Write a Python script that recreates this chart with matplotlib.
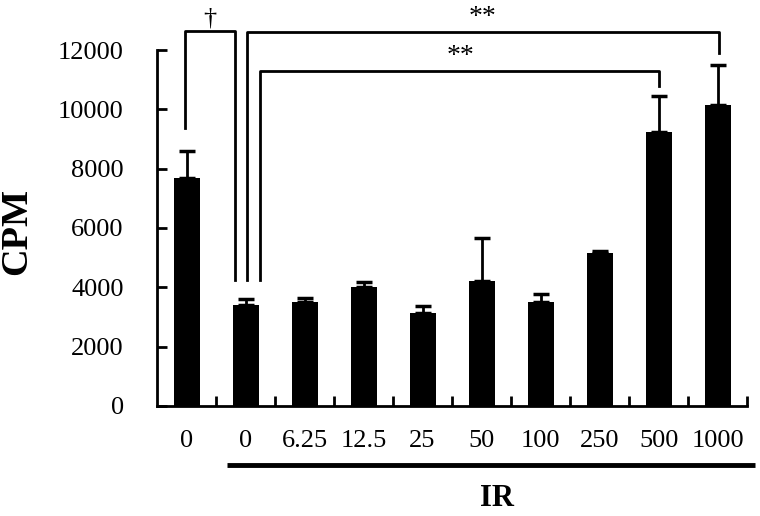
import matplotlib
matplotlib.use("Agg")
import matplotlib.pyplot as plt
import numpy as np

plt.rcParams['font.family'] = ['Liberation Serif', 'DejaVu Serif']

labels = ['0', '0', '6.25', '12.5', '25', '50', '100', '250', '500', '1000']
means = [7700, 3420, 3500, 4000, 3130, 4230, 3500, 5150, 9230, 10130]
errs = [900, 200, 130, 170, 230, 1420, 270, 80, 1220, 1370]

fig = plt.figure(figsize=(7.6, 5.16), dpi=100)
ax = fig.add_axes([0.2066, 0.2132, 0.7764, 0.6899])

x = np.arange(len(labels))
ax.bar(x, means, width=0.44, color='black')
ax.errorbar(x, means, yerr=[np.zeros(len(errs)), errs], fmt='none',
            ecolor='black', elinewidth=2, capsize=6, capthick=2.5)

ax.set_xlim(-0.5, len(labels) - 0.5)
ax.set_ylim(0, 12000)
ax.set_yticks(np.arange(0, 12001, 2000))
ax.set_xticks(x)
ax.set_xticklabels(labels)
ax.set_xticks(np.arange(0.5, len(labels), 1), minor=True)
ax.tick_params(axis='x', which='major', length=0, labelsize=19, pad=17)
ax.tick_params(axis='x', which='minor', direction='in', length=7, width=2)
ax.tick_params(axis='y', direction='in', length=7, width=2, labelsize=19, pad=24)

for s in ['top', 'right']:
    ax.spines[s].set_visible(False)
for s in ['left', 'bottom']:
    ax.spines[s].set_linewidth(2)

# y label placed in figure coords so it is not cut at the left edge
fig.text(17 / 760, 1 - 231 / 516, 'CPM', rotation=90, ha='center', va='center',
         fontsize=27.5, fontweight='bold')

# significance brackets
kw = dict(color='black', lw=2, clip_on=False)
ax.plot([-0.03, -0.03, 0.83, 0.83], [9380, 12650, 12650, 4250], **kw)
ax.plot([1.03, 1.03, 9.02, 9.02], [4250, 12610, 12610, 11900], **kw)
ax.plot([1.24, 1.24, 8.0, 8.0], [4250, 11300, 11300, 10790], **kw)
ax.text(0.4, 13050, '†', ha='center', va='center', fontsize=19, clip_on=False)
ax.text(5.02, 13080, '**', ha='center', va='center', fontsize=20, clip_on=False)
ax.text(4.64, 11780, '**', ha='center', va='center', fontsize=20, clip_on=False)

# IR group line
ax.plot([(227 - 157) / 590, (755 - 157) / 590], [-(465 - 406) / 356] * 2,
        transform=ax.transAxes, color='black', lw=3.5, clip_on=False,
        solid_capstyle='butt')
ax.text((497 - 157) / 590, -(499 - 406) / 356, 'IR', transform=ax.transAxes,
        ha='center', va='center', fontsize=22, fontweight='bold')

fig.savefig('out.png', dpi=100)
